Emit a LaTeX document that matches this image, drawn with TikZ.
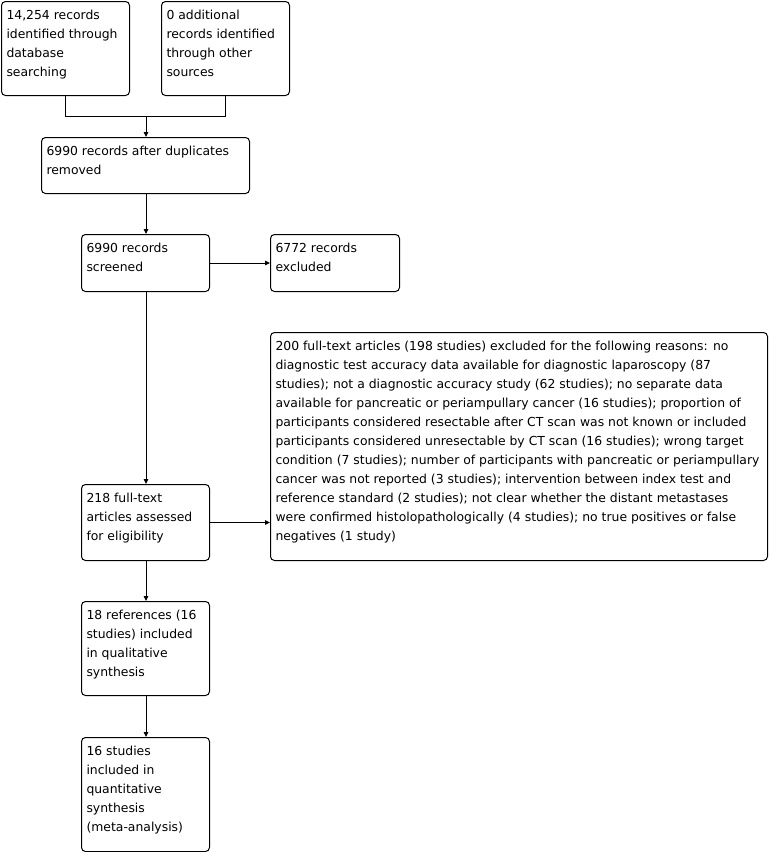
\documentclass[tikz,border=0pt]{standalone}
\usepackage{fontspec}
\setmainfont{DejaVu Sans}
\usetikzlibrary{arrows.meta}
\newcommand\fbx[6]{% name, x, y, width, height, text
  \node[fbox, minimum width=#4pt, minimum height=#5pt] (#1) at (#2,#3)
  {\parbox[c][\dimexpr#5pt-10pt\relax][t]{\dimexpr#4pt-10pt\relax}{\fontsize{12.4}{19}\selectfont\begin{tabular}[t]{@{}l@{}}#6\end{tabular}}};}
\begin{document}
\begin{tikzpicture}[x=1pt,y=-1pt,
  fbox/.style={draw=black, line width=1pt, rounded corners=4pt, anchor=north west, inner sep=5pt, fill=white},
  arr/.style={line width=1pt, -{Triangle[length=5pt,width=4.5pt]}},
  ln/.style={line width=1pt}]
\useasboundingbox[fill=white] (0,0) rectangle (769,852);
\fbx{b1}{1}{1}{128}{94}{14,254 records\\identified through\\database\\searching}
\fbx{b2}{161}{1}{128}{94}{0 additional\\records identified\\through other\\sources}
\fbx{b3}{41}{137}{208}{56}{6990 records after duplicates\\removed}
\fbx{b4}{81}{234}{128}{57}{6990 records\\screened}
\fbx{b5}{270}{234}{129}{57}{6772 records\\excluded}
\fbx{b7}{270}{332}{497}{228}{200 full-text articles (198 studies) excluded for the following reasons: no\\diagnostic test accuracy data available for diagnostic laparoscopy (87\\studies); not a diagnostic accuracy study (62 studies); no separate data\\available for pancreatic or periampullary cancer (16 studies); proportion of\\participants considered resectable after CT scan was not known or included\\participants considered unresectable by CT scan (16 studies); wrong target\\condition (7 studies); number of participants with pancreatic or periampullary\\cancer was not reported (3 studies); intervention between index test and\\reference standard (2 studies); not clear whether the distant metastases\\were confirmed histolopathologically (4 studies); no true positives or false\\negatives (1 study)}
\fbx{b6}{81}{484}{128}{76}{218 full-text\\articles assessed\\for eligibility}
\fbx{b8}{81}{601}{128}{94}{18 references (16\\studies) included\\in qualitative\\synthesis}
\fbx{b9}{81}{737}{128}{114}{16 studies\\included in\\quantitative\\synthesis\\(meta-analysis)}
\coordinate (m) at (146,116);
\draw[ln] (b1.south) -- (b1.south |- m) -- (b2.south |- m) -- (b2.south);
\draw[arr] (m) -- (m |- b3.north);
\draw[arr] (b3.south -| m) -- (m |- b4.north);
\draw[arr] (b4.east) -- (b4.east -| b5.west);
\draw[arr] (b4.south -| m) -- (m |- b6.north);
\draw[arr] (b6.east) -- (b6.east -| b7.west);
\draw[arr] (b6.south -| m) -- (m |- b8.north);
\draw[arr] (b8.south -| m) -- (m |- b9.north);
\end{tikzpicture}
\end{document}
